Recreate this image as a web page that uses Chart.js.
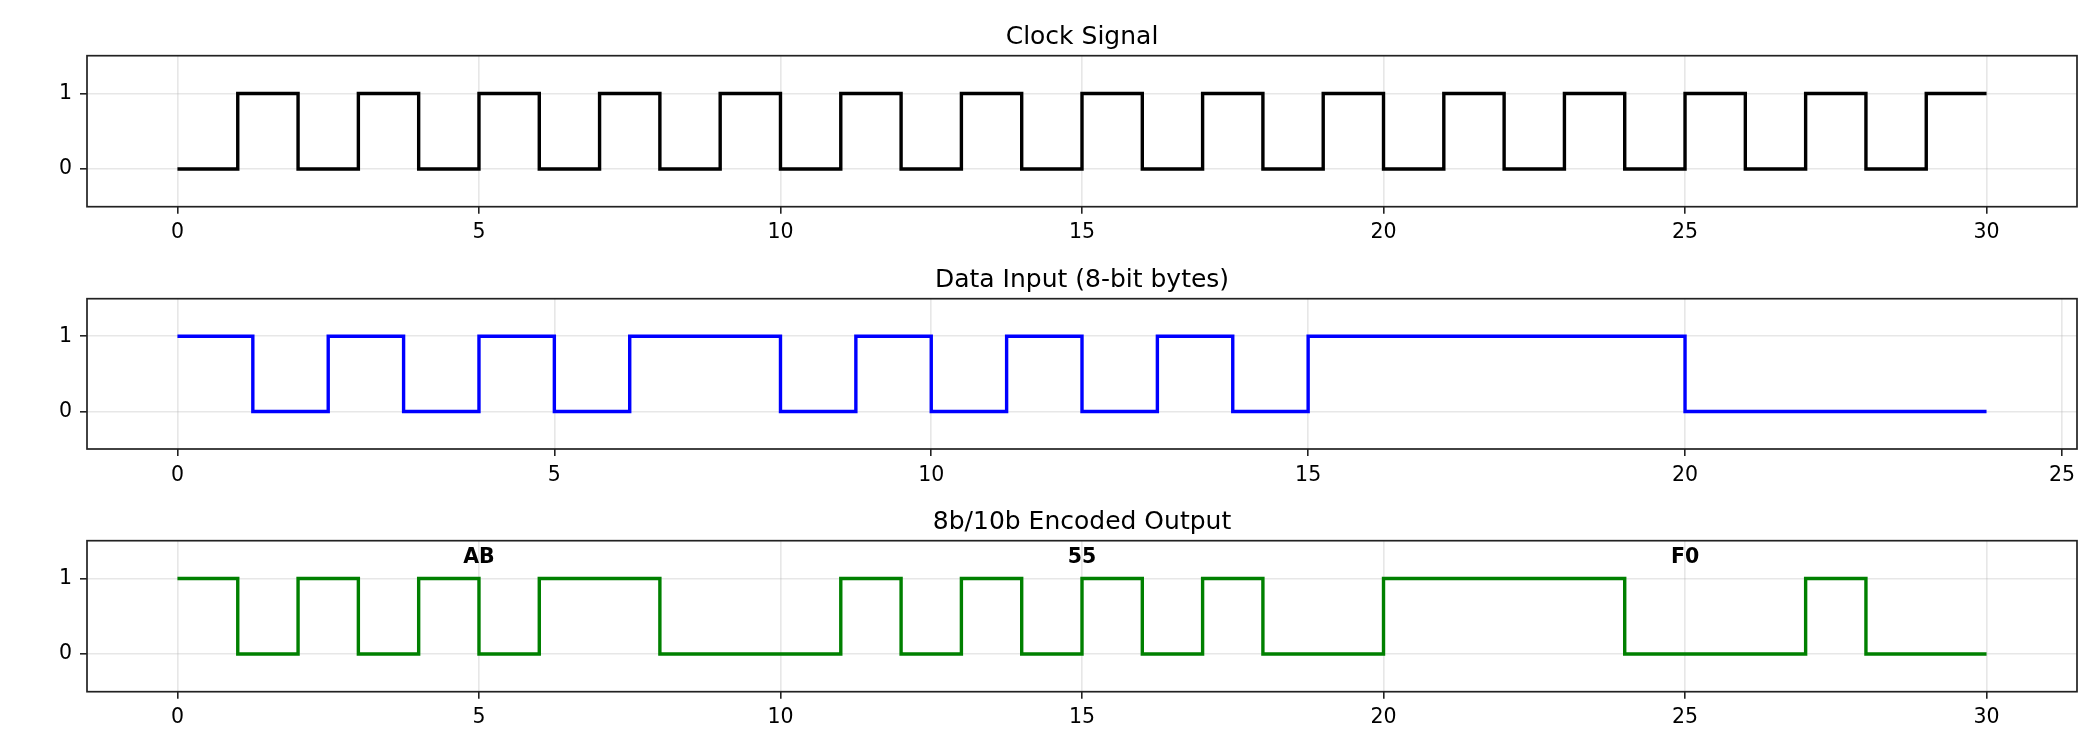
<!DOCTYPE html>
<html>
<head>
<meta charset="utf-8">
<style>
  html, body { margin: 0; padding: 0; background: #ffffff; width: 2100px; height: 750px; overflow: hidden; }
  .panel { position: absolute; left: 0; width: 2100px; height: 250px; }
  canvas { display: block; }
</style>
<script src="https://cdn.jsdelivr.net/npm/chart.js@4.4.1/dist/chart.umd.min.js"></script>
</head>
<body>
<div class="panel" style="top:0px"><canvas id="c0" width="2100" height="250"></canvas></div>
<div class="panel" style="top:250px"><canvas id="c1" width="2100" height="250"></canvas></div>
<div class="panel" style="top:500px"><canvas id="c2" width="2100" height="250"></canvas></div>
<script>
// ---------------- data ----------------
const clockTitle = 'Clock Signal';
const clockTime   = [0,1,2,3,4,5,6,7,8,9,10,11,12,13,14,15,16,17,18,19,20,21,22,23,24,25,26,27,28,29,30];
const clockLevels = [0,1,0,1,0,1,0,1,0,1, 0,1,0,1,0,1,0,1,0,1, 0,1,0,1,0,1,0,1,0,1, 1];
const clockTicks  = [0,5,10,15,20,25,30];

const dataTitle = 'Data Input (8-bit bytes)';
const dataTime   = [0,1,2,3,4,5,6,7,8,9,10,11,12,13,14,15,16,17,18,19,20,21,22,23,24];
const dataLevels = [1,0,1,0,1,0,1,1, 0,1,0,1,0,1,0,1, 1,1,1,1,0,0,0,0, 0];
const dataTicks  = [0,5,10,15,20,25];

const encodedTitle = '8b/10b Encoded Output';
const encodedTime   = [0,1,2,3,4,5,6,7,8,9,10,11,12,13,14,15,16,17,18,19,20,21,22,23,24,25,26,27,28,29,30];
const encodedLevels = [1,0,1,0,1,0,1,1,0,0, 0,1,0,1,0,1,0,1,0,0, 1,1,1,1,0,0,0,1,0,0, 0];
const encodedTicks  = [0,5,10,15,20,25,30];

const byteLabels = ['AB', '55', 'F0'];
const byteLabelX = [5, 15, 25];
const byteLabelY = 1.3;

const levelTicks = [0, 1];

// ---------------- drawing ----------------
const FONT = "'DejaVu Sans', sans-serif";

const framePlugin = {
  id: 'frame',
  afterDraw(chart) {
    const a = chart.chartArea, ctx = chart.ctx;
    ctx.save();
    ctx.strokeStyle = '#222222';
    ctx.lineWidth = 1.7;
    ctx.strokeRect(a.left, a.top, a.right - a.left, a.bottom - a.top);
    ctx.restore();
  }
};

const byteLabelPlugin = {
  id: 'byteLabels',
  afterDatasetsDraw(chart, args, opts) {
    if (!opts || !opts.labels) return;
    const ctx = chart.ctx, xs = chart.scales.x, ys = chart.scales.y;
    const size = 20.5;
    ctx.save();
    ctx.fillStyle = '#000000';
    ctx.font = 'bold ' + size + 'px ' + FONT;
    ctx.textAlign = 'center';
    ctx.textBaseline = 'alphabetic';
    opts.labels.forEach((lab, i) => {
      // centre the capitals on the anchor value
      ctx.fillText(lab, xs.getPixelForValue(opts.xs[i]), ys.getPixelForValue(opts.y) + size * 0.365);
    });
    ctx.restore();
  }
};

function makeChart(id, cfg) {
  const points = cfg.time.map((t, i) => ({ x: t, y: cfg.levels[i] }));
  const gridStyle = {
    color: 'rgba(176,176,176,0.3)',
    lineWidth: 1.6,
    tickColor: '#222222',
    tickWidth: 1.6,
    tickLength: 7,
    drawTicks: true,
    drawOnChartArea: true
  };
  return new Chart(document.getElementById(id), {
    type: 'line',
    data: {
      datasets: [{
        data: points,
        borderColor: cfg.color,
        backgroundColor: cfg.color,
        borderWidth: 3.4,
        stepped: 'before',
        pointRadius: 0,
        fill: false,
        borderCapStyle: 'butt',
        borderJoinStyle: 'miter'
      }]
    },
    options: {
      responsive: false,
      animation: false,
      events: [],
      layout: { padding: { left: 0, right: 23, top: 0, bottom: 0 } },
      plugins: {
        legend: { display: false },
        tooltip: { enabled: false },
        title: {
          display: true,
          fullSize: false,
          text: cfg.title,
          color: '#000000',
          font: { family: FONT, size: 25, weight: 'normal', lineHeight: 1.2 },
          padding: { top: cfg.top - 33.6, bottom: 3.6 }
        },
        byteLabels: cfg.annot || {}
      },
      scales: {
        x: {
          type: 'linear',
          min: cfg.xmin,
          max: cfg.xmax,
          afterBuildTicks: s => { s.ticks = cfg.xticks.map(v => ({ value: v })); },
          afterFit: s => { s.height = 250 - cfg.bottom; },
          ticks: {
            color: '#000000',
            font: { family: FONT, size: 20.5 },
            padding: 7,
            maxRotation: 0,
            autoSkip: false,
            callback: v => String(v)
          },
          grid: gridStyle,
          border: { display: false }
        },
        y: {
          type: 'linear',
          min: -0.5,
          max: 1.5,
          afterBuildTicks: s => { s.ticks = levelTicks.map(v => ({ value: v })); },
          afterFit: s => { s.width = 87; },
          ticks: {
            color: '#000000',
            font: { family: FONT, size: 20.5 },
            padding: 8,
            autoSkip: false,
            callback: v => String(v)
          },
          grid: gridStyle,
          border: { display: false }
        }
      }
    },
    plugins: [framePlugin, byteLabelPlugin]
  });
}

makeChart('c0', { title: clockTitle, time: clockTime, levels: clockLevels, color: '#000000',
  xmin: -1.5, xmax: 31.5, xticks: clockTicks, top: 55.7, bottom: 206.7 });
makeChart('c1', { title: dataTitle, time: dataTime, levels: dataLevels, color: '#0000ff',
  xmin: -1.2, xmax: 25.2, xticks: dataTicks, top: 48.7, bottom: 199 });
makeChart('c2', { title: encodedTitle, time: encodedTime, levels: encodedLevels, color: '#008000',
  xmin: -1.5, xmax: 31.5, xticks: encodedTicks, top: 40.7, bottom: 191.7,
  annot: { labels: byteLabels, xs: byteLabelX, y: byteLabelY } });
</script>
</body>
</html>
